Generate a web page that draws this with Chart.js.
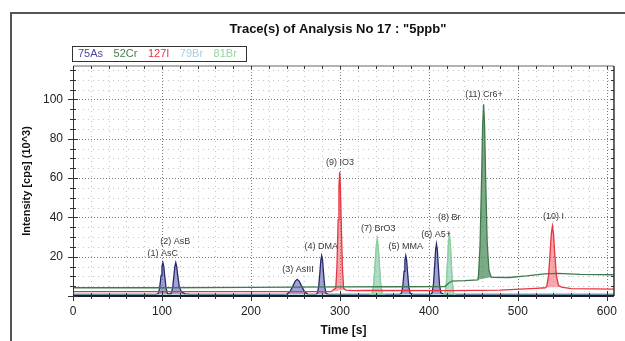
<!DOCTYPE html>
<html>
<head>
<meta charset="utf-8">
<title>Trace(s) of Analysis No 17</title>
<script src="https://cdn.jsdelivr.net/npm/chart.js@4.4.0/dist/chart.umd.min.js"></script>
<style>
  html, body { margin: 0; padding: 0; background: #fff; }
  #wrap { width: 625px; height: 341px; }
</style>
</head>
<body>
<div id="wrap"><canvas id="traceChart" width="625" height="341"></canvas></div>
<script>
// Trace data, time [s] vs intensity [cps] (10^3)
const chartTitle = 'Trace(s) of Analysis No 17 : "5ppb"';
const elementNames = ['75As', '52Cr', '127I', '79Br', '81Br'];

const asTime = [0, 94, 95.8, 97.4, 99, 100, 101, 102, 103, 104.6, 106.2, 108,
  110.3, 111.9, 113.5, 114.5, 115.5, 116.5, 117.7, 119.5, 122, 126, 132,
  236, 240.3, 243.9, 247.5, 249.8, 252, 254.2, 256.5, 260.1, 263.7, 268,
  273, 274.6, 276.1, 277.6, 278.5, 279.5, 280.5, 281.4, 282.9, 284.4, 287,
  367, 369.1, 370.6, 372.1, 373, 374, 375, 375.9, 377.4, 378.9, 382,
  402, 403.6, 405.1, 406.6, 407.5, 408.5, 409.5, 410.4, 411.9, 413.4, 417, 608];
const asVal = [0.8, 0.8, 1.3, 4, 10.5, 15.1, 17, 15.1, 10.5, 4, 1.3, 1,
  1.3, 4, 10.5, 15.1, 17, 15.1, 10.5, 4.5, 2, 1.1, 0.8,
  0.8, 1, 2.3, 5.4, 7.6, 8.5, 7.6, 5.4, 2.3, 1, 0.8,
  0.8, 1.4, 4.7, 12.6, 18.1, 20.5, 18.1, 12.6, 4.7, 1.4, 0.8,
  0.8, 1.4, 4.7, 12.6, 18.1, 20.5, 18.1, 12.6, 4.7, 1.4, 0.8,
  0.8, 1.6, 5.9, 16.2, 23.4, 26.5, 23.4, 16.2, 5.9, 1.6, 0.8, 0.8];
const asFloorTime = [0, 608];
const asFloorVal = [0.8, 0.8];

const crTime = [0, 100, 200, 300, 360, 418, 422, 426, 440, 455,
  455.8, 457.5, 459.3, 460.4, 461.5, 462.6, 463.7, 465.5, 467.5,
  470, 490, 510, 530, 545, 570, 608];
const crVal = [4.2, 4.2, 4.4, 4.6, 4.7, 4.8, 6.5, 7.6, 7.8, 8.2,
  10.9, 26, 61.6, 86.5, 97.5, 86.5, 61.6, 27, 13,
  9.5, 9.4, 10.2, 11.3, 11.5, 11, 10.8];
const crFloorTime = [0, 100, 200, 300, 360, 418, 422, 426, 440, 455, 470, 490, 510, 530, 545, 570, 608];
const crFloorVal = [4.2, 4.2, 4.4, 4.6, 4.7, 4.8, 6.5, 7.6, 7.8, 8.2, 9.5, 9.4, 10.2, 11.3, 11.5, 11, 10.8];

const iTime = [0, 100, 200, 290, 295.3, 296.6, 298, 298.9, 299.7, 300.5, 301.4, 302.8, 304.1,
  306.5, 315, 330, 424, 480, 520, 531,
  532.6, 534.5, 536.4, 537.6, 538.8, 540, 541.2, 543.3, 545.5,
  549, 560, 608];
const iVal = [2.2, 2.2, 2.2, 2.2, 4, 14.4, 38.7, 55.7, 63, 55.7, 38.7, 14.4, 4,
  3, 2.7, 2.8, 2.7, 3, 3.9, 4.2,
  5.1, 10.5, 23, 31.7, 35.5, 31.7, 23, 10.5, 5.5,
  4.5, 3.8, 3.5];
const iFloorTime = [0, 100, 200, 290, 306.5, 315, 330, 424, 480, 520, 531, 549, 560, 608];
const iFloorVal = [2.2, 2.2, 2.2, 2.2, 3, 2.7, 2.8, 2.7, 3, 3.9, 4.2, 4.5, 3.8, 3.5];

const brTime = [0, 333, 336.2, 338, 339.7, 340.8, 341.9, 343, 344.1, 345.8, 347.6, 351,
  415, 418.1, 419.6, 421.1, 422, 423, 424, 424.9, 426.4, 427.9, 431, 608];
const br79Val = [0.4, 0.4, 1.1, 5.8, 16.7, 24.3, 27.6, 24.3, 16.7, 5.8, 1.1, 0.4,
  0.4, 1.1, 6.1, 17.9, 26.2, 29.6, 26.2, 17.9, 6.1, 1.1, 0.4, 0.4];
const br81Val = [0.3, 0.3, 1.2, 6.1, 17.7, 25.8, 29.3, 25.8, 17.7, 6.1, 1.2, 0.3,
  0.3, 1.2, 6.5, 19, 27.8, 31.5, 27.8, 19, 6.5, 1.2, 0.3, 0.3];
const brFloorTime = [0, 608];
const br79FloorVal = [0.4, 0.4];
const br81FloorVal = [0.3, 0.3];

// peak annotations
const peakNames = ['(1) AsC', '(2) AsB', '(3) AsIII', '(4) DMA', '(5) MMA', '(6) A5+', '(7) BrO3', '(8) Br', '(9) IO3', '(10) I', '(11) Cr6+'];
const peakTimes = [101, 115, 253, 279, 374, 408, 343, 423, 300, 540, 462];
const peakLabelVals = [21.7, 27.9, 13.5, 25.4, 25.4, 31.3, 34.4, 40, 67.7, 40.3, 102.5];

const lineColors = ['#242a6c', '#3d7a4c', '#e8343e', '#a9cce2', '#8ccf9c'];
const fillColors = ['rgba(112,112,190,0.65)', 'rgba(70,135,85,0.7)', 'rgba(240,95,105,0.55)', 'rgba(170,205,228,0.5)', 'rgba(150,215,170,0.6)'];
const legendColors = ['#4a4a9c', '#4a7f4e', '#e8343e', '#a9cce2', '#94d39e'];

function pts(t, v) {
  return t.map((x, i) => ({ x: x, y: v[i] }));
}

// traces first (0-4), then their floors (5-9) used as fill targets
const traces = [pts(asTime, asVal), pts(crTime, crVal), pts(iTime, iVal), pts(brTime, br79Val), pts(brTime, br81Val)];
const floors = [pts(asFloorTime, asFloorVal), pts(crFloorTime, crFloorVal), pts(iFloorTime, iFloorVal),
  pts(brFloorTime, br79FloorVal), pts(brFloorTime, br81FloorVal)];
const drawOrder = [5, 1, 2, 4, 3];

const datasets = [];
traces.forEach((d, i) => {
  datasets.push({
    label: elementNames[i],
    data: d,
    borderColor: lineColors[i],
    borderWidth: 1.3,
    pointRadius: 0,
    fill: { target: i + 5, above: fillColors[i], below: 'rgba(0,0,0,0)' },
    order: drawOrder[i]
  });
});
floors.forEach((d, i) => {
  datasets.push({
    label: elementNames[i] + ' floor',
    data: d,
    borderColor: 'rgba(0,0,0,0)',
    borderWidth: 0,
    pointRadius: 0,
    fill: false,
    order: 10
  });
});

const decor = {
  id: 'decor',
  beforeDraw(chart) {
    const ctx = chart.ctx;
    ctx.save();
    // outer frame of the printout
    ctx.strokeStyle = '#555';
    ctx.lineWidth = 2;
    ctx.beginPath();
    ctx.moveTo(11, 341);
    ctx.lineTo(11, 13);
    ctx.lineTo(625, 13);
    ctx.stroke();

    // title
    ctx.fillStyle = '#111';
    ctx.font = 'bold 13px "Liberation Sans", Arial, sans-serif';
    ctx.textAlign = 'center';
    ctx.textBaseline = 'middle';
    ctx.fillText(chartTitle, 338, 29);

    // legend box
    ctx.font = '11px "Liberation Sans", Arial, sans-serif';
    ctx.textAlign = 'left';
    let x = 78;
    elementNames.forEach((n, i) => {
      ctx.fillStyle = legendColors[i];
      ctx.fillText(n, x, 54);
      x += ctx.measureText(n).width + 10.5;
    });
    ctx.strokeStyle = '#333';
    ctx.lineWidth = 1;
    ctx.strokeRect(72.5, 46.5, 174, 15);
    ctx.restore();
  },
  beforeDatasetsDraw(chart) {
    const { ctx, chartArea: a, scales: { x, y } } = chart;
    ctx.save();
    ctx.lineWidth = 1;
    y.ticks.forEach(t => {
      if (t.value % 5 !== 0 || t.value === 0) return;
      const major = t.value % 20 === 0;
      const py = Math.round(y.getPixelForValue(t.value)) + 0.5;
      ctx.strokeStyle = major ? '#777' : '#c4c4c4';
      ctx.setLineDash(major ? [1, 2] : [1, 4]);
      ctx.beginPath();
      ctx.moveTo(a.left, py);
      ctx.lineTo(a.right, py);
      ctx.stroke();
    });
    x.ticks.forEach(t => {
      if (t.value % 20 !== 0 || t.value === 0) return;
      const major = t.value % 100 === 0;
      const px = Math.round(x.getPixelForValue(t.value)) + 0.5;
      ctx.strokeStyle = major ? '#777' : '#c4c4c4';
      ctx.setLineDash(major ? [1, 2] : [1, 4]);
      ctx.beginPath();
      ctx.moveTo(px, a.top);
      ctx.lineTo(px, a.bottom);
      ctx.stroke();
    });
    ctx.restore();
  },
  afterDatasetsDraw(chart) {
    const { ctx, chartArea: a, scales: { x, y } } = chart;
    ctx.save();
    // plot border
    ctx.lineWidth = 1.5;
    ctx.strokeStyle = '#999';
    ctx.beginPath();
    ctx.moveTo(a.left, a.top);
    ctx.lineTo(a.right, a.top);
    ctx.stroke();
    ctx.strokeStyle = '#333';
    ctx.beginPath();
    ctx.moveTo(a.right, a.top);
    ctx.lineTo(a.right, a.bottom);
    ctx.stroke();
    ctx.lineWidth = 1;
    ctx.beginPath();
    ctx.moveTo(a.left + 0.5, a.top);
    ctx.lineTo(a.left + 0.5, a.bottom + 4);
    ctx.stroke();
    ctx.strokeStyle = '#1c1c30';
    ctx.lineWidth = 2;
    ctx.beginPath();
    ctx.moveTo(a.left, a.bottom);
    ctx.lineTo(a.right, a.bottom);
    ctx.stroke();

    // tick marks on all four sides
    ctx.lineWidth = 1;
    ctx.strokeStyle = '#333';
    y.ticks.forEach(t => {
      if (t.value % 5 !== 0) return;
      const major = t.value % 20 === 0;
      const py = Math.round(y.getPixelForValue(t.value)) + 0.5;
      const l = major ? 5 : 3;
      ctx.beginPath();
      ctx.moveTo(a.left - l, py);
      ctx.lineTo(a.left + l, py);
      ctx.moveTo(a.right - 3, py);
      ctx.lineTo(a.right, py);
      ctx.stroke();
    });
    x.ticks.forEach(t => {
      if (t.value % 20 !== 0) return;
      const major = t.value % 100 === 0;
      const px = Math.round(x.getPixelForValue(t.value)) + 0.5;
      const l = major ? 5 : 3;
      ctx.beginPath();
      ctx.moveTo(px, a.bottom - l);
      ctx.lineTo(px, a.bottom + l);
      ctx.moveTo(px, a.top);
      ctx.lineTo(px, a.top + 3);
      ctx.stroke();
    });

    // peak names
    ctx.fillStyle = '#3a3a3a';
    ctx.font = '9px "Liberation Sans", Arial, sans-serif';
    ctx.textAlign = 'center';
    ctx.textBaseline = 'middle';
    peakNames.forEach((n, i) => {
      ctx.fillText(n, x.getPixelForValue(peakTimes[i]), y.getPixelForValue(peakLabelVals[i]));
    });
    ctx.restore();
  }
};

const tickFont = { family: '"Liberation Sans", Arial, sans-serif', size: 12 };

new Chart(document.getElementById('traceChart'), {
  type: 'line',
  data: { datasets: datasets },
  options: {
    responsive: false,
    animation: false,
    events: [],
    layout: { padding: { left: 16, right: 10, top: 66, bottom: 0 } },
    plugins: {
      legend: { display: false },
      title: { display: false },
      tooltip: { enabled: false }
    },
    scales: {
      x: {
        type: 'linear',
        min: 0,
        max: 608,
        grid: { display: false, drawTicks: false },
        border: { display: false },
        ticks: {
          stepSize: 20,
          includeBounds: false,
          autoSkip: false,
          maxRotation: 0,
          padding: 8,
          color: '#222',
          font: tickFont,
          callback: v => (v % 100 === 0 ? v : '')
        },
        title: {
          display: true,
          text: 'Time [s]',
          color: '#111',
          font: { family: '"Liberation Sans", Arial, sans-serif', size: 12, weight: 'bold' },
          padding: { top: 0, bottom: 3 }
        },
        afterFit: s => { s.height = 45; }
      },
      y: {
        min: 0,
        max: 117,
        grid: { display: false, drawTicks: false },
        border: { display: false },
        ticks: {
          stepSize: 5,
          includeBounds: false,
          autoSkip: false,
          padding: 10,
          color: '#222',
          font: tickFont,
          callback: v => (v % 20 === 0 && v > 0 ? v : '')
        },
        title: {
          display: true,
          text: 'Intensity [cps] (10^3)',
          color: '#111',
          font: { family: '"Liberation Sans", Arial, sans-serif', size: 11, weight: 'bold' },
          padding: { top: 4, bottom: 0 }
        },
        afterFit: s => { s.width = 57; }
      }
    }
  },
  plugins: [decor]
});
</script>
</body>
</html>
